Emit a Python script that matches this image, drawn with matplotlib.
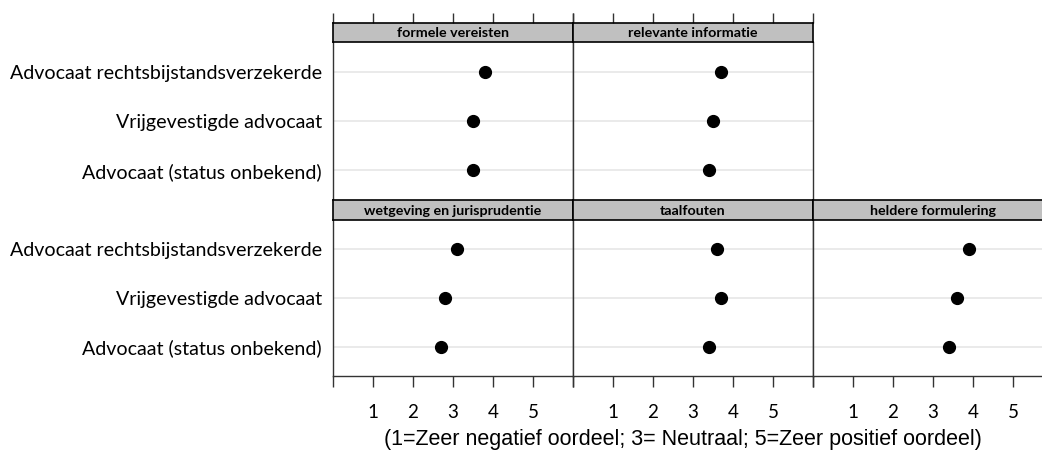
import numpy as np
import matplotlib
matplotlib.use("Agg")
from matplotlib import pyplot as plt

# groups from bottom (y=1) to top (y=3)
groups = ["Advocaat (status onbekend)", "Vrijgevestigde advocaat", "Advocaat rechtsbijstandsverzekerde"]

formele = [3.5, 3.5, 3.8]
relevante = [3.4, 3.5, 3.7]
wetgeving = [2.7, 2.8, 3.1]
taalfouten = [3.4, 3.7, 3.6]
heldere = [3.4, 3.6, 3.9]

ticks = [1, 2, 3, 4, 5]
xlabel = "(1=Zeer negatief oordeel; 3= Neutraal; 5=Zeer positief oordeel)"

W, H = 1042, 450
fig = plt.figure(figsize=(W / 100, H / 100), dpi=100)

LABEL_FONT = "Lato"
EDGE = "#333333"


def box(x0, y0, x1, y1):
    # pixel box -> figure fraction
    return [x0 / W, 1 - y1 / H, (x1 - x0) / W, (y1 - y0) / H]


def panel(col, row, title, values, bottom_axis, top_axis):
    x0 = 333 + col * 240
    x1 = x0 + 240
    if row == 0:
        sy0, sy1, py0, py1 = 23, 42, 42, 200
    else:
        sy0, sy1, py0, py1 = 200, 220, 220, 376

    ax = fig.add_axes(box(x0, py0, x1, py1))
    y = np.arange(1, len(groups) + 1)
    for yy in y:
        ax.axhline(yy, color="#e6e6e6", lw=1.2, zorder=1)
    ax.plot(values, y, "o", color="black", ms=8.5, zorder=3)
    ax.set_xlim(0, 6)
    ax.set_ylim(0.4, 3.6)
    for s in ax.spines.values():
        s.set_color(EDGE)
        s.set_linewidth(1.0)
    ax.spines["top"].set_visible(False)
    ax.spines["bottom"].set_visible(bottom_axis)
    if col == 0:
        ax.set_yticks(y)
        ax.set_yticklabels(groups, fontsize=14.1, family=LABEL_FONT)
        ax.tick_params(axis="y", length=0, pad=8)
    else:
        ax.set_yticks([])
    if bottom_axis:
        ax.set_xticks(range(0, 7))
        ax.set_xticklabels([""] + [str(t) for t in ticks] + [""], fontsize=13.5, family=LABEL_FONT)
        ax.tick_params(axis="x", direction="out", length=8, width=1.0, color=EDGE, pad=12)
    else:
        ax.set_xticks([])

    # strip
    st = fig.add_axes(box(x0, sy0, x1, sy1))
    st.set_facecolor("#c0c0c0")
    st.set_xlim(0, 6)
    st.set_yticks([])
    for s in st.spines.values():
        s.set_color("black")
        s.set_linewidth(1.2)
    st.text(3, 0.45, title, ha="center", va="center", fontsize=10.3,
            fontweight="bold", family=LABEL_FONT, transform=st.get_xaxis_transform())
    if top_axis:
        st.set_xticks(range(0, 7))
        st.tick_params(axis="x", top=True, bottom=False, labeltop=False, labelbottom=False,
                       direction="out", length=7.2, width=1.0, color=EDGE)
    else:
        st.set_xticks([])
    return ax


panel(0, 0, "formele vereisten", formele, False, True)
panel(1, 0, "relevante informatie", relevante, False, True)
panel(0, 1, "wetgeving en jurisprudentie", wetgeving, True, False)
panel(1, 1, "taalfouten", taalfouten, True, False)
panel(2, 1, "heldere formulering", heldere, True, False)

fig.text(683 / W, 1 - 439 / H, xlabel, ha="center", va="center", fontsize=15.5,
         family="Liberation Sans")

fig.savefig("out.png", dpi=100)
